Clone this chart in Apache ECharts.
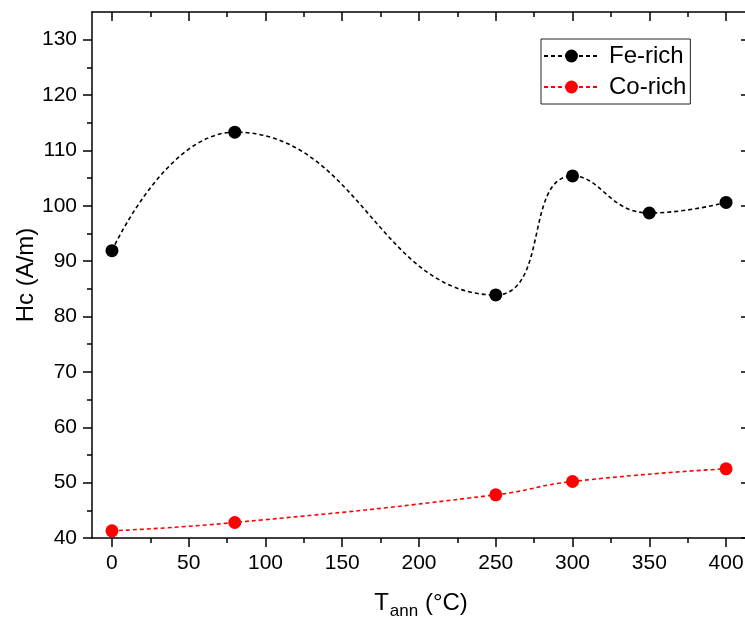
<!DOCTYPE html>
<html>
<head>
<meta charset="utf-8">
<script src="https://cdn.jsdelivr.net/npm/echarts@6/dist/echarts.min.js"></script>
<style>
  html, body { margin: 0; padding: 0; background: #fff; }
  #chart { width: 745px; height: 619px; }
</style>
</head>
<body>
<div id="chart"></div>
<script>
// Annealing temperature (°C) and coercivity Hc (A/m)
const tempFe = [0, 80, 250, 300, 350, 400];
const hcFe = [91.9, 113.3, 83.9, 105.4, 98.7, 100.6];
const tempCo = [0, 80, 250, 300, 400];
const hcCo = [41.3, 42.8, 47.8, 50.2, 52.5];

const xTicks = [0, 50, 100, 150, 200, 250, 300, 350, 400];
const yTicks = [40, 50, 60, 70, 80, 90, 100, 110, 120, 130];

const FONT = 'Liberation Sans, Arial, Helvetica, sans-serif';
const X_MIN = -13, X_MAX = 415.6;
const Y_MIN = 40, Y_MAX = 135;

const pairs = (xs, ys) => xs.map((x, i) => [x, ys[i]]);

const axisLine = { show: true, onZero: false, lineStyle: { color: '#000', width: 1.5 } };

function xAxisCfg(pos, inside, showLabels) {
  return {
    type: 'value', position: pos, min: X_MIN, max: X_MAX, splitNumber: 8,
    axisLine: axisLine,
    axisTick: { show: true, inside: inside, length: 9, customValues: xTicks,
                lineStyle: { color: '#000', width: 1.5 } },
    minorTick: { show: true, splitNumber: 2, length: 5, lineStyle: { color: '#000', width: 1.5 } },
    axisLabel: { show: showLabels, customValues: xTicks, margin: 15,
                 fontFamily: FONT, fontSize: 21, color: '#000' },
    splitLine: { show: false }
  };
}

function yAxisCfg(pos, inside, showLabels) {
  return {
    type: 'value', position: pos, min: Y_MIN, max: Y_MAX, interval: 10,
    axisLine: axisLine,
    axisTick: { show: true, inside: inside, length: 9, customValues: yTicks,
                lineStyle: { color: '#000', width: 1.5 } },
    minorTick: { show: true, splitNumber: 2, length: 5, lineStyle: { color: '#000', width: 1.5 } },
    axisLabel: { show: showLabels, customValues: yTicks, margin: 15,
                 fontFamily: FONT, fontSize: 21, color: '#000' },
    splitLine: { show: false }
  };
}

const xBottom = Object.assign(xAxisCfg('bottom', false, true), {
  name: '{t|T}{s|ann}{t| (°C)}',
  nameLocation: 'middle',
  nameGap: 49,
  nameMoveOverlap: false,
  nameTextStyle: {
    rich: {
      t: { fontFamily: FONT, fontSize: 24, color: '#000', lineHeight: 28, verticalAlign: 'bottom' },
      s: { fontFamily: FONT, fontSize: 17, color: '#000', lineHeight: 28, verticalAlign: 'bottom', padding: [0, 0, -5, 1] }
    }
  }
});

const yLeft = Object.assign(yAxisCfg('left', false, true), {
  name: 'Hc (A/m)',
  nameLocation: 'middle',
  nameGap: 54,
  nameMoveOverlap: false,
  nameTextStyle: { fontFamily: FONT, fontSize: 24, color: '#000' }
});

const lineStyleFe = { color: '#000', width: 1.6, type: [4, 3] };
const lineStyleCo = { color: '#ff0000', width: 1.6, type: [4, 3] };

const chart = echarts.init(document.getElementById('chart'), null, { renderer: 'canvas' });
chart.setOption({
  animation: false,
  backgroundColor: '#fff',
  grid: { left: 92, top: 12, right: -5, bottom: 81, containLabel: false, outerBoundsMode: 'none' },
  xAxis: [xBottom, xAxisCfg('top', true, false)],
  yAxis: [yLeft, yAxisCfg('right', true, false)],
  legend: {
    orient: 'vertical',
    left: 541, top: 39,
    padding: [4, 4, 4, 2],
    itemWidth: 55, itemHeight: 16, itemGap: 5,
    borderColor: '#222', borderWidth: 1,
    textStyle: { fontFamily: FONT, fontSize: 24, color: '#000', padding: [0, 0, 0, 5], lineHeight: 26 },
    data: ['Fe-rich', 'Co-rich']
  },
  series: [
    {
      name: 'Fe-rich', type: 'line', xAxisIndex: 0, yAxisIndex: 0,
      data: pairs(tempFe, hcFe), smooth: 0.5,
      symbol: 'circle', symbolSize: 13,
      itemStyle: { color: '#000' }, lineStyle: lineStyleFe
    },
    {
      name: 'Co-rich', type: 'line', xAxisIndex: 0, yAxisIndex: 0,
      data: pairs(tempCo, hcCo), smooth: 0.5,
      symbol: 'circle', symbolSize: 13,
      itemStyle: { color: '#ff0000' }, lineStyle: lineStyleCo
    }
  ]
});
</script>
</body>
</html>
